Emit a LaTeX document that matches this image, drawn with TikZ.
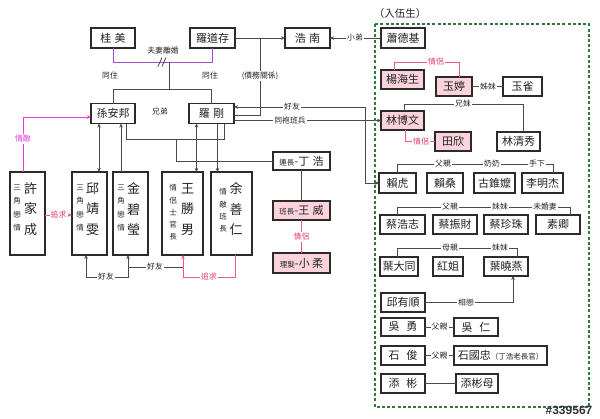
\documentclass[tikz,border=0pt]{standalone}
\usepackage{fontspec}
\setmainfont{Noto Sans CJK TC}
\newfontfamily\wmfont{Liberation Sans}
\usetikzlibrary{arrows.meta}
\definecolor{lnc}{HTML}{4A4A4A}
\definecolor{boxc}{HTML}{2E2A2A}
\definecolor{txtc}{HTML}{222222}
\definecolor{pinkf}{HTML}{FAD3DD}
\definecolor{pinkl}{HTML}{EC5C82}
\definecolor{pinkt}{HTML}{E23A62}
\definecolor{magl}{HTML}{E838E0}
\definecolor{purl}{HTML}{A04CCC}
\definecolor{grn}{HTML}{2C7A3C}
\newcommand{\sm}{\fontsize{7.5}{8}\selectfont}
\begin{document}
\begin{tikzpicture}[x=1pt,y=-1pt,
  bx/.style={draw=boxc, line width=1.2pt, fill=white, inner sep=0pt, outer sep=0pt, text=txtc, font=\fontsize{11}{13}\selectfont},
  pk/.style={bx, fill=pinkf},
  sz/.style 2 args={minimum width=#1pt, minimum height=#2pt},
  lbl/.style={fill=white, inner sep=1.2pt, text=txtc, font=\fontsize{7.8}{9}\selectfont},
  plbl/.style={lbl, text=pinkt},
  mlbl/.style={lbl, text=magl},
  ln/.style={draw=lnc, line width=0.8pt},
  pkl/.style={draw=pinkl, line width=0.8pt},
  mgl/.style={draw=magl, line width=0.8pt},
  ppl/.style={draw=purl, line width=0.9pt},
  arr/.style={-{Stealth[length=4pt,width=3.6pt]}},
  arrb/.style={{Stealth[length=4pt,width=3.6pt]}-{Stealth[length=4pt,width=3.6pt]}},
  vs/.style={inner sep=0pt, align=center, text=txtc, font=\fontsize{7.5}{13.3}\selectfont},
  vs2/.style={inner sep=0pt, align=center, text=txtc, font=\fontsize{7.5}{12.3}\selectfont},
  vb/.style={inner sep=0pt, align=center, text=txtc, font=\fontsize{13}{20.5}\selectfont}
]
\useasboundingbox (0,0) rectangle (600,418);

% ---------- boxes ----------
\node[bx,sz={44}{20}] (gui) at (113,38) {桂\hspace{.3em}美};
\node[bx,sz={45}{20}] (luo) at (212.5,38) {羅道存};
\node[bx,sz={45}{20}] (haonan) at (307.5,38) {浩\hspace{.3em}南};
\node[bx,sz={44}{20}] (xiao) at (403,38) {蕭德基};
\node[bx,sz={44}{20}] (sun) at (113,113.5) {孫安邦};
\node[bx,sz={45}{20}] (gang) at (211.5,113.5) {羅\hspace{.3em}剛};
\node[bx,sz={35}{83}] (xu) at (27.5,213.5) {};
\node[bx,sz={35}{83}] (qiu) at (89.5,213.5) {};
\node[bx,sz={35}{83}] (jin) at (130.5,213.5) {};
\node[bx,sz={41}{83}] (wang) at (182.5,213.5) {};
\node[bx,sz={41}{83}] (yu) at (231.5,213.5) {};
\node[bx,sz={57}{18}] (ding) at (301.5,161) {{\sm 連長}-丁\hspace{.3em}浩};
\node[pk,sz={57}{19}] (wei) at (301.5,210.5) {{\sm 班長}-王\hspace{.3em}威};
\node[pk,sz={57}{20}] (rou) at (301.5,263) {{\sm 理髮}-小\hspace{.2em}柔};

\node[pk,sz={43}{19}] (yang) at (402.5,79.5) {楊海生};
\node[pk,sz={36}{19}] (yuting) at (454,86.5) {玉婷};
\node[bx,sz={39}{19}] (yuque) at (522.5,86.5) {玉雀};
\node[pk,sz={43}{19}] (lin) at (402.5,120.5) {林博文};
\node[pk,sz={36}{19}] (tian) at (453,141.5) {田欣};
\node[bx,sz={43}{19}] (linqx) at (518.5,141.5) {林清秀};
\node[bx,sz={37}{20}] (laihu) at (397.5,183) {賴虎};
\node[bx,sz={36}{20}] (laisang) at (445,183) {賴桑};
\node[bx,sz={41}{20}] (gu) at (494.5,183) {古錐嬤};
\node[bx,sz={41}{20}] (li) at (542.5,183) {李明杰};
\node[bx,sz={45}{19}] (cai1) at (402.5,224.5) {蔡浩志};
\node[bx,sz={44}{19}] (cai2) at (455,224.5) {蔡振財};
\node[bx,sz={44}{19}] (cai3) at (506,224.5) {蔡珍珠};
\node[bx,sz={44}{19}] (suqing) at (558,224.5) {素卿};
\node[bx,sz={38}{19}] (ye1) at (399,266.5) {葉大同};
\node[bx,sz={30}{19}] (hong) at (448,266.5) {紅姐};
\node[bx,sz={44}{19}] (ye3) at (506,266.5) {葉曉燕};
\node[bx,sz={44}{19}] (qiuys) at (403,302.5) {邱有順};
\node[bx,sz={44}{18}] (wuyong) at (403,327) {吳\hspace{.6em}勇};
\node[bx,sz={44}{18}] (wuren) at (476,327) {吳\hspace{.6em}仁};
\node[bx,sz={44}{19}] (shijun) at (403,355.5) {石\hspace{.6em}俊};
\node[bx,sz={93}{19}] (shigz) at (500.5,355.5) {石國忠{\sm（丁浩老長官）}};
\node[bx,sz={44}{19}] (tianbin) at (403,383.5) {添\hspace{.6em}彬};
\node[bx,sz={42}{19}] (tbm) at (477,383.5) {添彬母};

% vertical texts in tall boxes
\node[vs] (xu-s) at (17,208) {三\\角\\戀\\情};
\node[vb] (xu-b) at (30.5,209) {許\\家\\成};
\node[vs] (qiu-s) at (80,208) {三\\角\\戀\\情};
\node[vb] (qiu-b) at (92.5,209) {邱\\靖\\雯};
\node[vs] (jin-s) at (121,208) {三\\角\\戀\\情};
\node[vb] (jin-b) at (133.5,209) {金\\碧\\瑩};
\node[vs2] (wang-s) at (173,212.5) {情\\侶\\士\\官\\長};
\node[vb] (wang-b) at (187.5,209) {王\\勝\\男};
\node[vs2] (yu-s) at (223,210.5) {情\\敵\\班\\長};
\node[vb] (yu-b) at (236,209) {余\\善\\仁};

% ---------- connectors: top ----------
\draw[ln,arr] (luo) -- (haonan);
\coordinate (debt) at (260,38);
\draw[ln] (debt) |- ([yshift=-1.5pt]gang.east);
\draw[ln,arr] (xiao) -- (haonan);

\draw[ppl] (gui.south) -- ++(0,14) -| (luo.south);
\coordinate (div) at (169,62);
\coordinate (sib) at (169,89);
\draw[ln] (div) -- (sib);
\draw[ln] (sun.north) -- ++(0,-14.5) -| (gang.north);
\draw[lnc, line width=0.8pt] (158,66.5) -- (162,57.5) (162,66.5) -- (166,57.5);

% 好友 / 同袍班兵
\coordinate (hy) at (365,183);
\draw[ln,arrb] ([yshift=6.5pt]gang.east) -| (hy) -- (laihu.west);
\draw[ln,arr] (gang.east |- lin.west) -- (lin.west);

% 孫安邦 / 羅剛 downwards
\draw[ln,arrb] ([xshift=-14pt]sun.south) -- ([xshift=-14pt]sun.south |- qiu.north);
\draw[ln,arr] ([xshift=-9.5pt]jin.north) -- ([xshift=-9.5pt]jin.north |- sun.south);
\draw[ln] ([xshift=13pt]sun.south) -- ++(0,16) -| ([xshift=12.5pt]gang.south);
\coordinate (br) at (176,139);
\draw[ln] (br) |- (ding.west);
\draw[ln,arrb] ([xshift=-15pt]gang.south) -- ([xshift=-15pt]gang.south |- wang.north);
\draw[ln,arr] ([xshift=6pt]gang.south) -- ([xshift=6pt]gang.south |- yu.north);

% 許家成
\draw[mgl,arr] ([xshift=-4.5pt]xu.north) |- ([yshift=-3.5pt]sun.west);
\draw[pkl,arr] (xu.east |- 0,215) -- (qiu.west |- 0,215);

% bottom
\draw[ln,arrb] ([xshift=-3.5pt]qiu.south) -- ++(0,22) -| ([xshift=-2.5pt]jin.south);
\coordinate (f2) at (128,267);
\coordinate (f2e) at (183,267);
\draw[ln] (f2) -- (f2e);
\draw[pkl,arr] ([xshift=3.5pt]yu.south) -- ++(0,22) -| ([xshift=0.5pt]wang.south);

% 丁浩 chain
\draw[ln] (ding.south) -- (wei.north);
\draw[pkl] (wei.south) -- (rou.north);

% ---------- right side ----------
\draw[pkl] ([xshift=-8.5pt]yang.north) -- ++(0,-8) -| ([xshift=5pt]yuting.north);
\draw[ln] (yuting.east) -- (yuque.west);
\draw[ln] ([xshift=1.5pt]lin.north) -- ++(0,-7) -| ([xshift=4.5pt]linqx.north);
\draw[pkl] ([xshift=2.5pt]lin.south) |- (tian.west);
\draw[ln] ([xshift=-0.5pt]laihu.north) -- ++(0,-9) -| ([xshift=10.5pt]li.north);
\draw[ln] ([xshift=-5.5pt]cai1.north) -- ++(0,-8) -| ([xshift=12pt]suqing.north);
\draw[ln] ([xshift=-2pt]ye1.north) -- ++(0,-9) -| ([xshift=11pt]ye3.north);
\draw[ln,arr] (qiuys.east) -| ([xshift=7pt]ye3.south);
\draw[ln] (wuyong.east) -- (wuren.west);
\draw[ln] (shijun.east) -- (shigz.west);
\draw[ln] (tianbin.east) -- (tbm.west);

% dashed frame
\draw[draw=grn, line width=1.3pt, dash pattern=on 3pt off 2.2pt] (375,24) rectangle (589,407);
\node[inner sep=0pt, text=txtc, font=\fontsize{10.5}{12}\selectfont] (rw) at (400,14) {（入伍生）};

% ---------- labels ----------
\node[lbl] (l-div) at (163,51) {夫妻離婚};
\node[lbl] (l-zz1) at (110,76) {同住};
\node[lbl] (l-zz2) at (210,76) {同住};
\node[lbl] (l-xd) at (160,112) {兄弟};
\node[lbl] (l-debt) at (260,76) {(債務關係)};
\node[lbl] (l-xiaodi) at (355,38) {小弟};
\node[lbl] (l-hy) at (292,107) {好友};
\node[lbl] (l-tp) at (290,120.5) {同袍班兵};
\node[mlbl] (l-qd) at (23,139) {情敵};
\node[plbl] (l-zq1) at (58.5,215) {追求};
\node[lbl] (l-hy2) at (106,277) {好友};
\node[lbl] (l-hy3) at (155,267) {好友};
\node[plbl] (l-zq2) at (209,277) {追求};
\node[plbl] (l-ql1) at (301.5,237) {情侶};
\node[plbl] (l-ql2) at (436,62) {情侶};
\node[lbl] (l-zm) at (488,86.5) {姊妹};
\node[lbl] (l-xm) at (463,104) {兄妹};
\node[plbl] (l-ql3) at (421,141.5) {情侶};
\node[lbl] (l-fq1) at (443,164) {父親};
\node[lbl] (l-nn) at (492,164) {奶奶};
\node[lbl] (l-sx) at (537,164) {手下};
\node[lbl] (l-fq2) at (450,207) {父親};
\node[lbl] (l-mm1) at (500,207) {妹妹};
\node[lbl] (l-whq) at (545,207) {未婚妻};
\node[lbl] (l-mq) at (450,248) {母親};
\node[lbl] (l-mm2) at (500,248) {妹妹};
\node[lbl] (l-xl) at (466,302.5) {相戀};
\node[lbl] (l-fq3) at (439.5,327) {父親};
\node[lbl] (l-fq4) at (439.5,355.5) {父親};

\node[inner sep=0pt, text=black!80, font=\wmfont\bfseries\fontsize{12}{13}\selectfont] (wm) at (569,410) {\#339567};
\end{tikzpicture}
\end{document}
